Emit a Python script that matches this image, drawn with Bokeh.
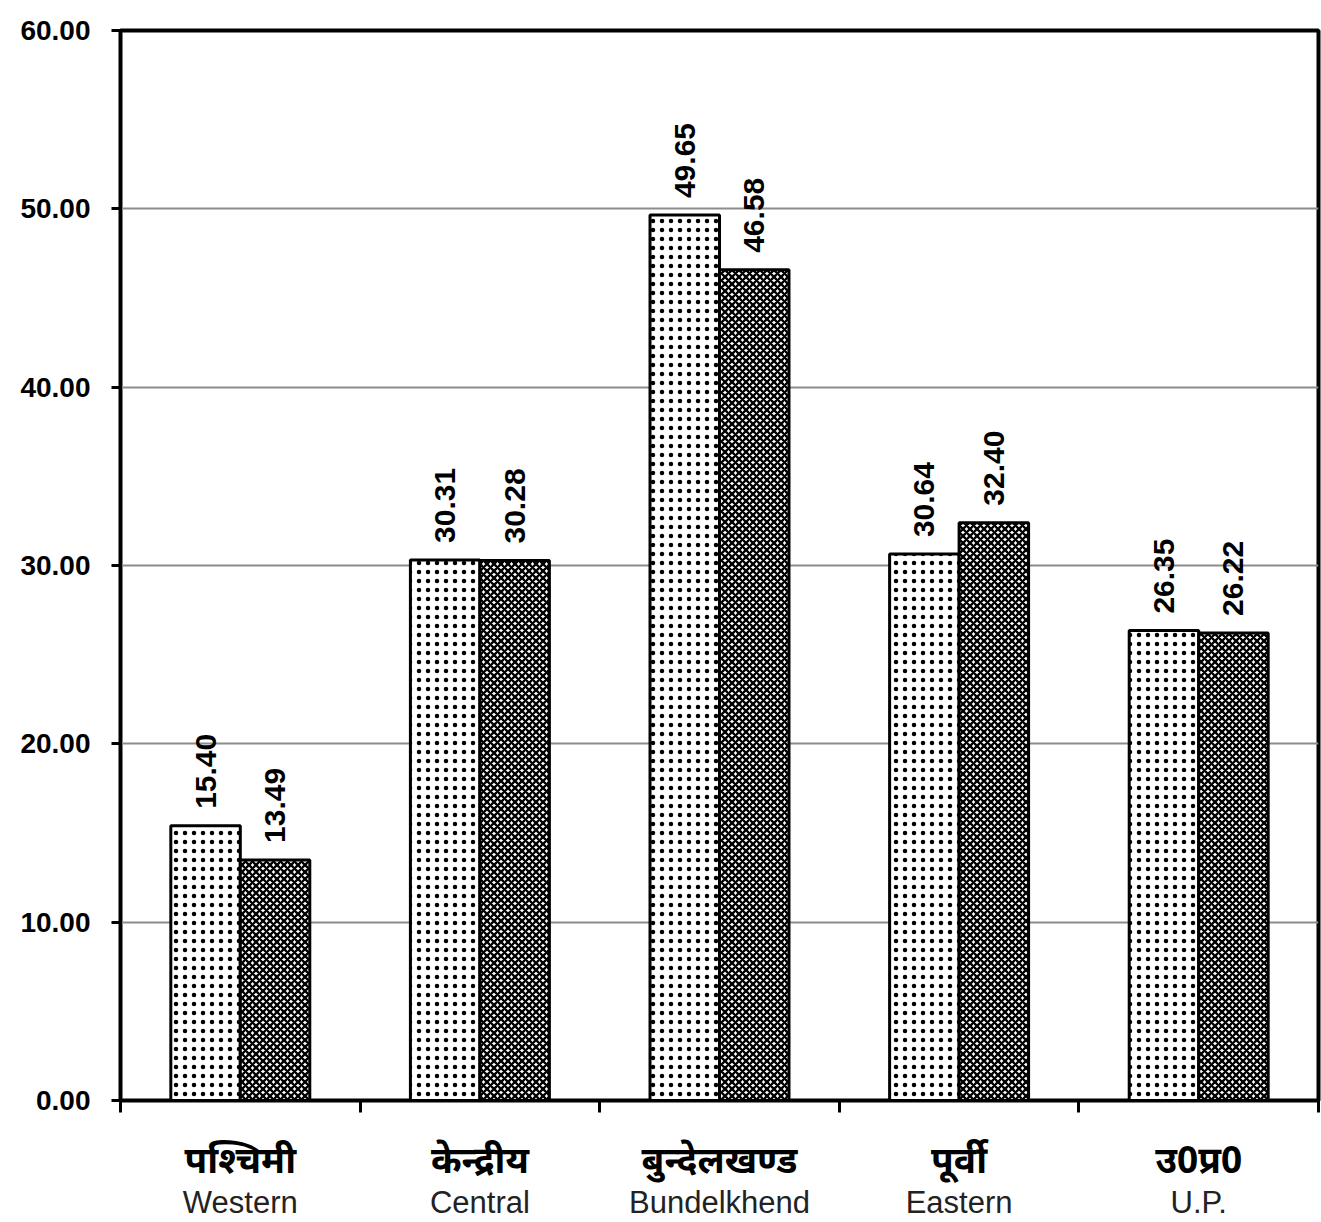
import json
import numpy as np
from bokeh.plotting import figure
from bokeh.models import (ColumnDataSource, FixedTicker, LinearAxis, Range1d,
                          NumeralTickFormatter, CustomJSTickFormatter)
from bokeh.core.properties import value
from bokeh.transform import dodge
from bokeh.embed import file_html
from bokeh.resources import INLINE

regions_hi = ["पश्चिमी", "केन्द्रीय", "बुन्देलखण्ड", "पूर्वी", "उ0प्र0"]
regions_en = ["Western", "Central", "Bundelkhend", "Eastern", "U.P."]
series_a = [15.40, 30.31, 49.65, 30.64, 26.35]
series_b = [13.49, 30.28, 46.58, 32.40, 26.22]
y_ticks = [0, 10, 20, 30, 40, 50, 60]

n = len(regions_en)
centers = np.arange(n) + 0.5
src = ColumnDataSource(dict(
    x=centers, a=series_a, b=series_b,
    la=[f"{v:.2f}" for v in series_a], lb=[f"{v:.2f}" for v in series_b]))

FONT = "Liberation Sans"
BW = 0.29

p = figure(width=1321, height=1222, x_range=Range1d(0, n), y_range=Range1d(0, 60),
           output_backend="svg", toolbar_location=None,
           min_border_left=120, min_border_right=3, min_border_top=30, min_border_bottom=122)
p.background_fill_color = "white"
p.border_fill_color = "white"
p.outline_line_color = "black"
p.outline_line_width = 4

# y axis
p.yaxis.ticker = FixedTicker(ticks=y_ticks)
p.yaxis.formatter = NumeralTickFormatter(format="0.00")
p.yaxis.axis_line_width = 3
p.yaxis.axis_line_color = "black"
p.yaxis.major_tick_line_width = 3
p.yaxis.major_tick_out = 9
p.yaxis.major_tick_in = 0
p.yaxis.minor_tick_line_color = None
p.yaxis.major_label_text_font = FONT
p.yaxis.major_label_text_font_style = "bold"
p.yaxis.major_label_text_font_size = "28px"
p.yaxis.major_label_text_color = "black"
p.yaxis.major_label_standoff = 21

p.ygrid.ticker = FixedTicker(ticks=y_ticks[1:-1])
p.ygrid.grid_line_color = "#8c8c8c"
p.ygrid.grid_line_width = 2
p.xgrid.grid_line_color = None

# x axis (boundary ticks)
p.xaxis.ticker = FixedTicker(ticks=list(range(n + 1)))
p.xaxis.axis_line_width = 3
p.xaxis.axis_line_color = "black"
p.xaxis.major_tick_line_width = 3
p.xaxis.major_tick_out = 12
p.xaxis.major_tick_in = 0
p.xaxis.minor_tick_line_color = None
p.xaxis.major_label_text_font_size = "1px"
p.xaxis.major_label_text_color = None
p.xaxis.major_label_standoff = 0

hi_fmt = CustomJSTickFormatter(code="const labs = %s; return labs[Math.floor(tick)];" % json.dumps(regions_hi))
en_fmt = CustomJSTickFormatter(code="const labs = %s; return labs[Math.floor(tick)];" % json.dumps(regions_en))

ax_hi = LinearAxis(ticker=FixedTicker(ticks=list(centers)), formatter=hi_fmt,
                   axis_line_color=None, major_tick_line_color=None, minor_tick_line_color=None,
                   major_label_text_font="Noto Sans", major_label_text_font_style="bold",
                   major_label_text_font_size="37px", major_label_text_color="black",
                   major_label_standoff=14)
ax_en = LinearAxis(ticker=FixedTicker(ticks=list(centers)), formatter=en_fmt,
                   axis_line_color=None, major_tick_line_color=None, minor_tick_line_color=None,
                   major_label_text_font=FONT, major_label_text_font_size="31px",
                   major_label_text_color="#222222", major_label_standoff=-8)
p.add_layout(ax_hi, "below")
p.add_layout(ax_en, "below")

# bars
p.vbar(x=dodge("x", -BW / 2, range=p.x_range), top="a", width=BW, source=src,
       fill_color="white", line_color="black", line_width=3,
       hatch_pattern="dot", hatch_color="black", hatch_scale=9, hatch_weight=3.5)
p.vbar(x=dodge("x", BW / 2, range=p.x_range), top="b", width=BW, source=src,
       fill_color="white", line_color="black", line_width=3,
       hatch_pattern="diagonal_cross", hatch_color="black", hatch_scale=7, hatch_weight=2.3)

# value labels
for col, lab, off in (("a", "la", -BW / 2), ("b", "lb", BW / 2)):
    p.text(x=dodge("x", off, range=p.x_range), y=col, text=lab, source=src,
           angle=np.pi / 2, text_align="left", text_baseline="middle",
           y_offset=-17, text_font=value(FONT), text_font_style="bold",
           text_font_size="30px", text_color="black")

open("out.html", "w").write(file_html(p, INLINE))
